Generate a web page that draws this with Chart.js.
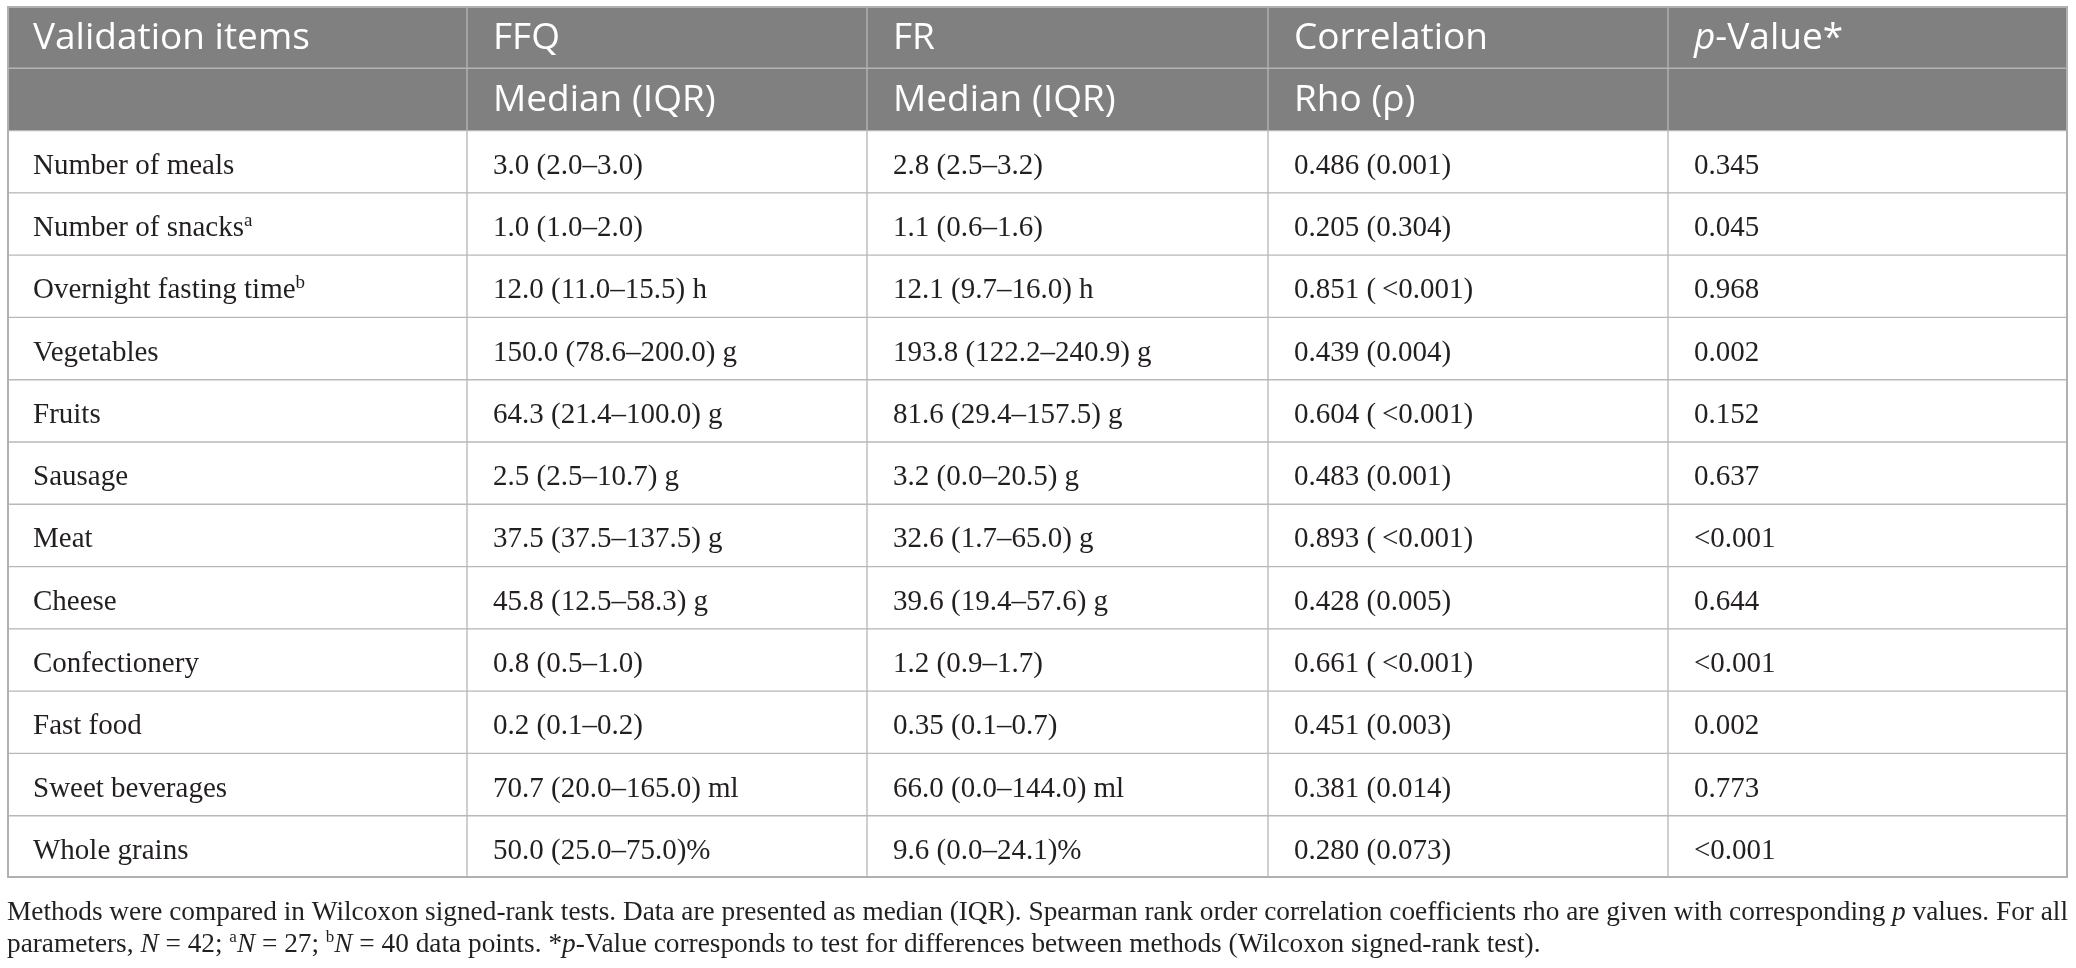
<!DOCTYPE html>
<html>
<head>
<meta charset="utf-8">
<script src="https://cdn.jsdelivr.net/npm/chart.js"></script>
<style>
  html, body { margin: 0; padding: 0; background: #ffffff; }
  #wrap { width: 2076px; height: 968px; position: relative; }
</style>
</head>
<body>
<div id="wrap"><canvas id="c"></canvas></div>
<script>
// ---------- DATA ----------
const columnHeaders = ["Validation items", "FFQ", "FR", "Correlation", "{i:p}-Value*"];
const subHeaders = ["", "Median (IQR)", "Median (IQR)", "Rho (ρ)", ""];
const items = [
  "Number of meals", "Number of snacks{s:a}", "Overnight fasting time{s:b}", "Vegetables",
  "Fruits", "Sausage", "Meat", "Cheese", "Confectionery", "Fast food",
  "Sweet beverages", "Whole grains"
];
const ffqMedianIQR = [
  "3.0 (2.0–3.0)", "1.0 (1.0–2.0)", "12.0 (11.0–15.5) h", "150.0 (78.6–200.0) g",
  "64.3 (21.4–100.0) g", "2.5 (2.5–10.7) g", "37.5 (37.5–137.5) g", "45.8 (12.5–58.3) g",
  "0.8 (0.5–1.0)", "0.2 (0.1–0.2)", "70.7 (20.0–165.0) ml", "50.0 (25.0–75.0)%"
];
const frMedianIQR = [
  "2.8 (2.5–3.2)", "1.1 (0.6–1.6)", "12.1 (9.7–16.0) h", "193.8 (122.2–240.9) g",
  "81.6 (29.4–157.5) g", "3.2 (0.0–20.5) g", "32.6 (1.7–65.0) g", "39.6 (19.4–57.6) g",
  "1.2 (0.9–1.7)", "0.35 (0.1–0.7)", "66.0 (0.0–144.0) ml", "9.6 (0.0–24.1)%"
];
const rhoValues = [
  "0.486 (0.001)", "0.205 (0.304)", "0.851 (\u2009<0.001)", "0.439 (0.004)",
  "0.604 (\u2009<0.001)", "0.483 (0.001)", "0.893 (\u2009<0.001)", "0.428 (0.005)",
  "0.661 (\u2009<0.001)", "0.451 (0.003)", "0.381 (0.014)", "0.280 (0.073)"
];
const pValues = [
  "0.345", "0.045", "0.968", "0.002", "0.152", "0.637",
  "<0.001", "0.644", "<0.001", "0.002", "0.773", "<0.001"
];
const footnoteLines = [
  "Methods were compared in Wilcoxon signed-rank tests. Data are presented as median (IQR). Spearman rank order correlation coefficients rho are given with corresponding {i:p} values. For all",
  "parameters, {i:N} = 42; {s:a}{i:N} = 27; {s:b}{i:N} = 40 data points. *{i:p}-Value corresponds to test for differences between methods (Wilcoxon signed-rank test)."
];

// ---------- LAYOUT / STYLE ----------
const COLUMN_SPANS = [460, 400, 401, 400, 400];
const HEADER_BG = "#808080";
const BODY_BG = "#ffffff";
const HEADER_LINE = "#b4b4b4";
const BODY_LINE = "#b9b9b9";
const HEADER_FONT = { family: "'Open Sans'", size: 37, color: "#ffffff", hscale: 1 };
const BODY_FONT = { family: "'Liberation Serif'", size: 29, color: "#231f20", hscale: 1 };
const NOTE_FONT = { family: "'Liberation Serif'", size: 27.3, color: "#231f20", hscale: 1 };
const TEXT_INSET = 26;

const columns = [
  [columnHeaders[0], subHeaders[0], ...items],
  [columnHeaders[1], subHeaders[1], ...ffqMedianIQR],
  [columnHeaders[2], subHeaders[2], ...frMedianIQR],
  [columnHeaders[3], subHeaders[3], ...rhoValues],
  [columnHeaders[4], subHeaders[4], ...pValues]
];
const rowKeys = ["header", "subheader", ...items.map((s, i) => "row" + i)];
const nHeader = 2;

function parseRich(str) {
  const segs = [];
  const re = /\{(i|s):([^}]*)\}/g;
  let last = 0, m;
  while ((m = re.exec(str)) !== null) {
    if (m.index > last) segs.push({ t: str.slice(last, m.index), k: "n" });
    segs.push({ t: m[2], k: m[1] });
    last = re.lastIndex;
  }
  if (last < str.length) segs.push({ t: str.slice(last), k: "n" });
  return segs;
}
function segFont(seg, f) {
  if (seg.k === "i") return "italic " + f.size + "px " + f.family;
  if (seg.k === "s") return Math.round(f.size * 0.64) + "px " + f.family;
  return f.size + "px " + f.family;
}
function richInfo(ctx, str, f) {
  let w = 0, spaces = 0;
  for (const seg of parseRich(str)) {
    ctx.font = segFont(seg, f);
    w += ctx.measureText(seg.t).width;
    spaces += (seg.t.match(/ /g) || []).length;
  }
  return { w, spaces };
}
function drawRich(ctx, str, x, y, f, extraSpace) {
  const hs = f.hscale || 1;
  const ex = extraSpace || 0;
  ctx.fillStyle = f.color;
  ctx.textBaseline = "alphabetic";
  ctx.textAlign = "left";
  let cx = x;
  for (const seg of parseRich(str)) {
    ctx.font = segFont(seg, f);
    const dy = seg.k === "s" ? -f.size * 0.36 : 0;
    const parts = seg.t.split(" ");
    parts.forEach((part, i) => {
      if (i > 0) cx += (ctx.measureText(" ").width * hs + ex);
      if (!part) return;
      ctx.save();
      ctx.translate(cx, y + dy);
      ctx.scale(hs, 1);
      ctx.fillText(part, 0, 0);
      ctx.restore();
      cx += ctx.measureText(part).width * hs;
    });
  }
}

const tableText = {
  id: "tableText",
  afterDatasetsDraw(chart) {
    const ctx = chart.ctx;
    ctx.save();
    columns.forEach((col, c) => {
      const meta = chart.getDatasetMeta(c);
      col.forEach((txt, r) => {
        if (!txt) return;
        const el = meta.data[r];
        const p = el.getProps(["x", "y", "base"], true);
        const left = Math.min(p.x, p.base);
        const isHead = r < nHeader;
        drawRich(ctx, txt, left + TEXT_INSET, p.y + 12, isHead ? HEADER_FONT : BODY_FONT);
      });
    });
    const a = chart.chartArea;
    ctx.strokeStyle = "#b0b0b0";
    ctx.lineWidth = 2;
    ctx.strokeRect(a.left + 1, a.top + 1, a.right - a.left - 2, a.bottom - a.top - 2);
    ctx.restore();
  },
  afterDraw(chart) {
    const ctx = chart.ctx;
    const a = chart.chartArea;
    ctx.save();
    const target = a.right - a.left;
    const info = richInfo(ctx, footnoteLines[0], NOTE_FONT);
    const extra = info.spaces ? Math.max(0, (target - info.w) / info.spaces) : 0;
    drawRich(ctx, footnoteLines[0], a.left, a.bottom + 42, NOTE_FONT, extra);
    drawRich(ctx, footnoteLines[1], a.left, a.bottom + 74, NOTE_FONT, 0);
    ctx.restore();
  }
};

function makeChart() {
  const rowBg = rowKeys.map((k, i) => i < nHeader ? HEADER_BG : BODY_BG);
  const rowLine = rowKeys.map((k, i) => i < nHeader ? HEADER_LINE : BODY_LINE);
  const datasets = COLUMN_SPANS.map((span, c) => ({
    label: columnHeaders[c],
    data: rowKeys.map(() => span),
    backgroundColor: rowBg,
    borderColor: rowLine,
    borderWidth: 1,
    borderSkipped: false,
    categoryPercentage: 1,
    barPercentage: 1
  }));
  new Chart(document.getElementById("c"), {
    type: "bar",
    data: { labels: rowKeys, datasets },
    options: {
      indexAxis: "y",
      responsive: true,
      maintainAspectRatio: false,
      animation: false,
      layout: { padding: { left: 7, right: 8, top: 6, bottom: 90 } },
      scales: {
        x: { type: "linear", stacked: true, min: 0, max: COLUMN_SPANS.reduce((s, v) => s + v, 0), display: false },
        y: { type: "category", stacked: true, display: false }
      },
      plugins: { legend: { display: false }, tooltip: { enabled: false }, title: { display: false } }
    },
    plugins: [tableText]
  });
}

Promise.all([
  document.fonts.load("37px 'Open Sans'"),
  document.fonts.load("italic 37px 'Open Sans'"),
  document.fonts.load("29px 'Liberation Serif'"),
  document.fonts.load("italic 29px 'Liberation Serif'")
]).then(makeChart, makeChart);
</script>
</body>
</html>
